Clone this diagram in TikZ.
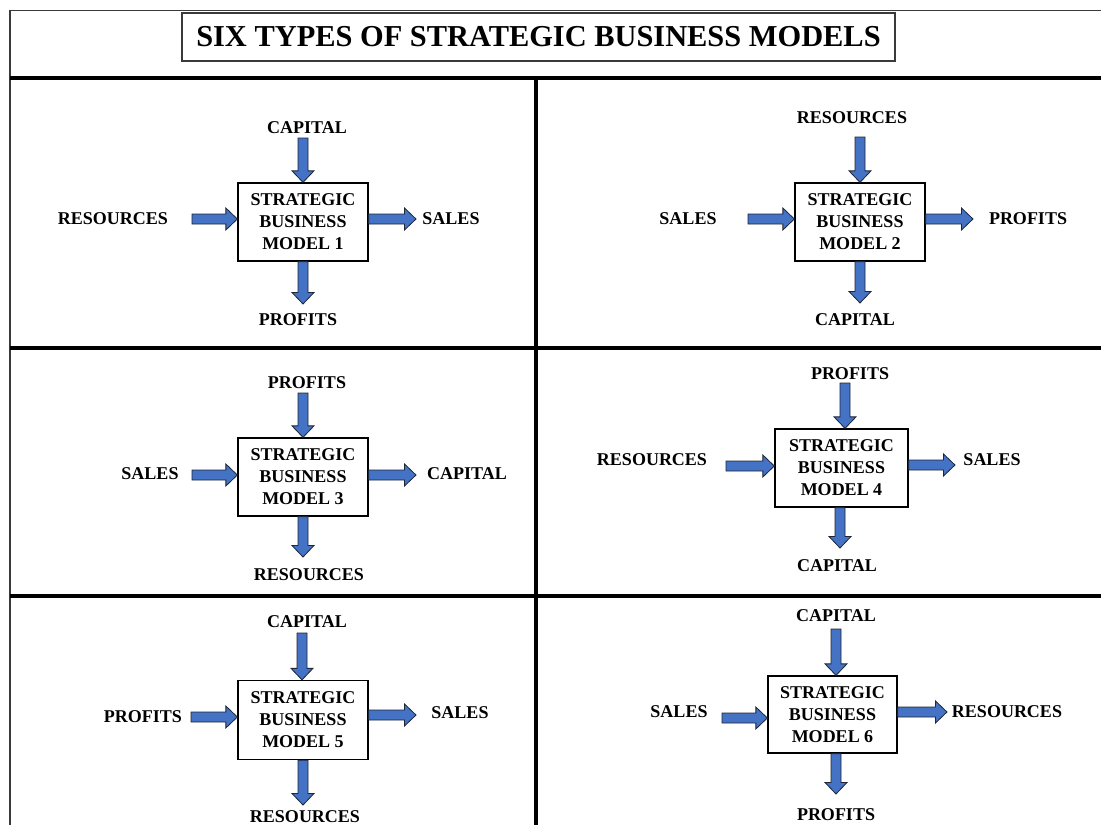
\documentclass[tikz,border=0pt]{standalone}
\usepackage{fontspec}
\setmainfont{Liberation Serif}
\usetikzlibrary{calc}
\definecolor{arrowblue}{HTML}{4472C4}
\definecolor{arrowedge}{HTML}{1E2535}
\definecolor{rulegray}{HTML}{3A3A3A}
\begin{document}
\begin{tikzpicture}[x=1pt,y=-1pt,
  lbl/.style={inner sep=0pt, font=\fontsize{18}{22}\selectfont\bfseries},
  model/.style={draw=black, line width=1.3pt, fill=white, minimum width=130pt,
    minimum height=78pt, inner sep=0pt, align=center,
    font=\fontsize{18}{22}\selectfont\bfseries},
  divider/.style={line width=4pt, black},
  frame/.style={line width=1.4pt, rulegray},
  barrow/.style={draw=arrowedge, fill=arrowblue, line width=0.8pt, line join=miter,
    to path={let \p1=(\tikztostart), \p2=(\tikztotarget), \p3=($(\p2)!11.5pt!(\p1)$) in
      ($(\p1)!5pt!90:(\p2)$) -- ($(\p3)!5pt!-90:(\p1)$) -- ($(\p3)!11pt!-90:(\p1)$)
      -- (\p2) -- ($(\p3)!11pt!90:(\p1)$) -- ($(\p3)!5pt!90:(\p1)$)
      -- ($(\p1)!5pt!-90:(\p2)$) -- cycle}}]
\useasboundingbox (0,0) rectangle (1101,825);

% outer frame and grid
\draw[frame] (10,825) -- (10,10.5) -- (1101,10.5);
\draw[divider] (10,78) -- (1101,78);
\draw[divider] (10,348) -- (1101,348);
\draw[divider] (10,596) -- (1101,596);
\draw[divider] (536,78) -- (536,825);

% heading
\node[draw=rulegray, line width=1.3pt, minimum width=713pt, minimum height=48pt, inner sep=0pt,
  font=\fontsize{30.4}{34}\selectfont\bfseries] (title) at (538.5,37) {SIX TYPES OF STRATEGIC BUSINESS MODELS};

% ---- model 1 ----
\node[model] (m1) at (303,222) {STRATEGIC\\BUSINESS\\MODEL 1};
\node[lbl] (m1top) at (307,128) {CAPITAL};
\node[lbl] (m1left) at (113,219) {RESOURCES};
\node[lbl] (m1right) at (451,219) {SALES};
\node[lbl] (m1bot) at (298,320) {PROFITS};
\coordinate (a1t) at (303,138);
\coordinate (a1l) at (192,219);
\coordinate (a1r) at (416,219);
\coordinate (a1b) at (303,304);
\draw[barrow] (a1t) to (a1t |- m1.north);
\draw[barrow] (a1l) to (a1l -| m1.west);
\draw[barrow] (a1r -| m1.east) to (a1r);
\draw[barrow] (a1b |- m1.south) to (a1b);

% ---- model 2 ----
\node[model] (m2) at (860,222) {STRATEGIC\\BUSINESS\\MODEL 2};
\node[lbl] (m2top) at (852,118) {RESOURCES};
\node[lbl] (m2left) at (688,219) {SALES};
\node[lbl] (m2right) at (1028,219) {PROFITS};
\node[lbl] (m2bot) at (855,320) {CAPITAL};
\coordinate (a2t) at (860,137);
\coordinate (a2l) at (748,219);
\coordinate (a2r) at (973,219);
\coordinate (a2b) at (860,303);
\draw[barrow] (a2t) to (a2t |- m2.north);
\draw[barrow] (a2l) to (a2l -| m2.west);
\draw[barrow] (a2r -| m2.east) to (a2r);
\draw[barrow] (a2b |- m2.south) to (a2b);

% ---- model 3 ----
\node[model] (m3) at (303,477) {STRATEGIC\\BUSINESS\\MODEL 3};
\node[lbl] (m3top) at (307,383) {PROFITS};
\node[lbl] (m3left) at (150,474) {SALES};
\node[lbl] (m3right) at (467,474) {CAPITAL};
\node[lbl] (m3bot) at (309,575) {RESOURCES};
\coordinate (a3t) at (303,393);
\coordinate (a3l) at (192,475);
\coordinate (a3r) at (416,475);
\coordinate (a3b) at (303,557);
\draw[barrow] (a3t) to (a3t |- m3.north);
\draw[barrow] (a3l) to (a3l -| m3.west);
\draw[barrow] (a3r -| m3.east) to (a3r);
\draw[barrow] (a3b |- m3.south) to (a3b);

% ---- model 4 ----
\node[model, minimum width=133pt] (m4) at (841.5,468) {STRATEGIC\\BUSINESS\\MODEL 4};
\node[lbl] (m4top) at (850,374) {PROFITS};
\node[lbl] (m4left) at (652,460) {RESOURCES};
\node[lbl] (m4right) at (992,460) {SALES};
\node[lbl] (m4bot) at (837,566) {CAPITAL};
\coordinate (a4t) at (845,383);
\coordinate (a4l) at (726,466);
\coordinate (a4r) at (955,465);
\coordinate (a4b) at (840,548);
\draw[barrow] (a4t) to (a4t |- m4.north);
\draw[barrow] (a4l) to (a4l -| m4.west);
\draw[barrow] (a4r -| m4.east) to (a4r);
\draw[barrow] (a4b |- m4.south) to (a4b);

% ---- model 5 ----
\node[model, minimum height=79pt] (m5) at (303,720) {STRATEGIC\\BUSINESS\\MODEL 5};
\node[lbl] (m5top) at (307,622) {CAPITAL};
\node[lbl] (m5left) at (143,717) {PROFITS};
\node[lbl] (m5right) at (460,713) {SALES};
\node[lbl] (m5bot) at (305,817) {RESOURCES};
\coordinate (a5t) at (302,633);
\coordinate (a5l) at (191,717);
\coordinate (a5r) at (416,715);
\coordinate (a5b) at (303,805);
\draw[barrow] (a5t) to (a5t |- m5.north);
\draw[barrow] (a5l) to (a5l -| m5.west);
\draw[barrow] (a5r -| m5.east) to (a5r);
\draw[barrow] (a5b |- m5.south) to (a5b);

% ---- model 6 ----
\node[model, minimum width=129pt, minimum height=77pt] (m6) at (832.5,714.5) {STRATEGIC\\BUSINESS\\MODEL 6};
\node[lbl] (m6top) at (836,616) {CAPITAL};
\node[lbl] (m6left) at (679,712) {SALES};
\node[lbl] (m6right) at (1007,712) {RESOURCES};
\node[lbl] (m6bot) at (836,815) {PROFITS};
\coordinate (a6t) at (836,629);
\coordinate (a6l) at (722,718);
\coordinate (a6r) at (947,712);
\coordinate (a6b) at (836,794);
\draw[barrow] (a6t) to (a6t |- m6.north);
\draw[barrow] (a6l) to (a6l -| m6.west);
\draw[barrow] (a6r -| m6.east) to (a6r);
\draw[barrow] (a6b |- m6.south) to (a6b);
\end{tikzpicture}
\end{document}
